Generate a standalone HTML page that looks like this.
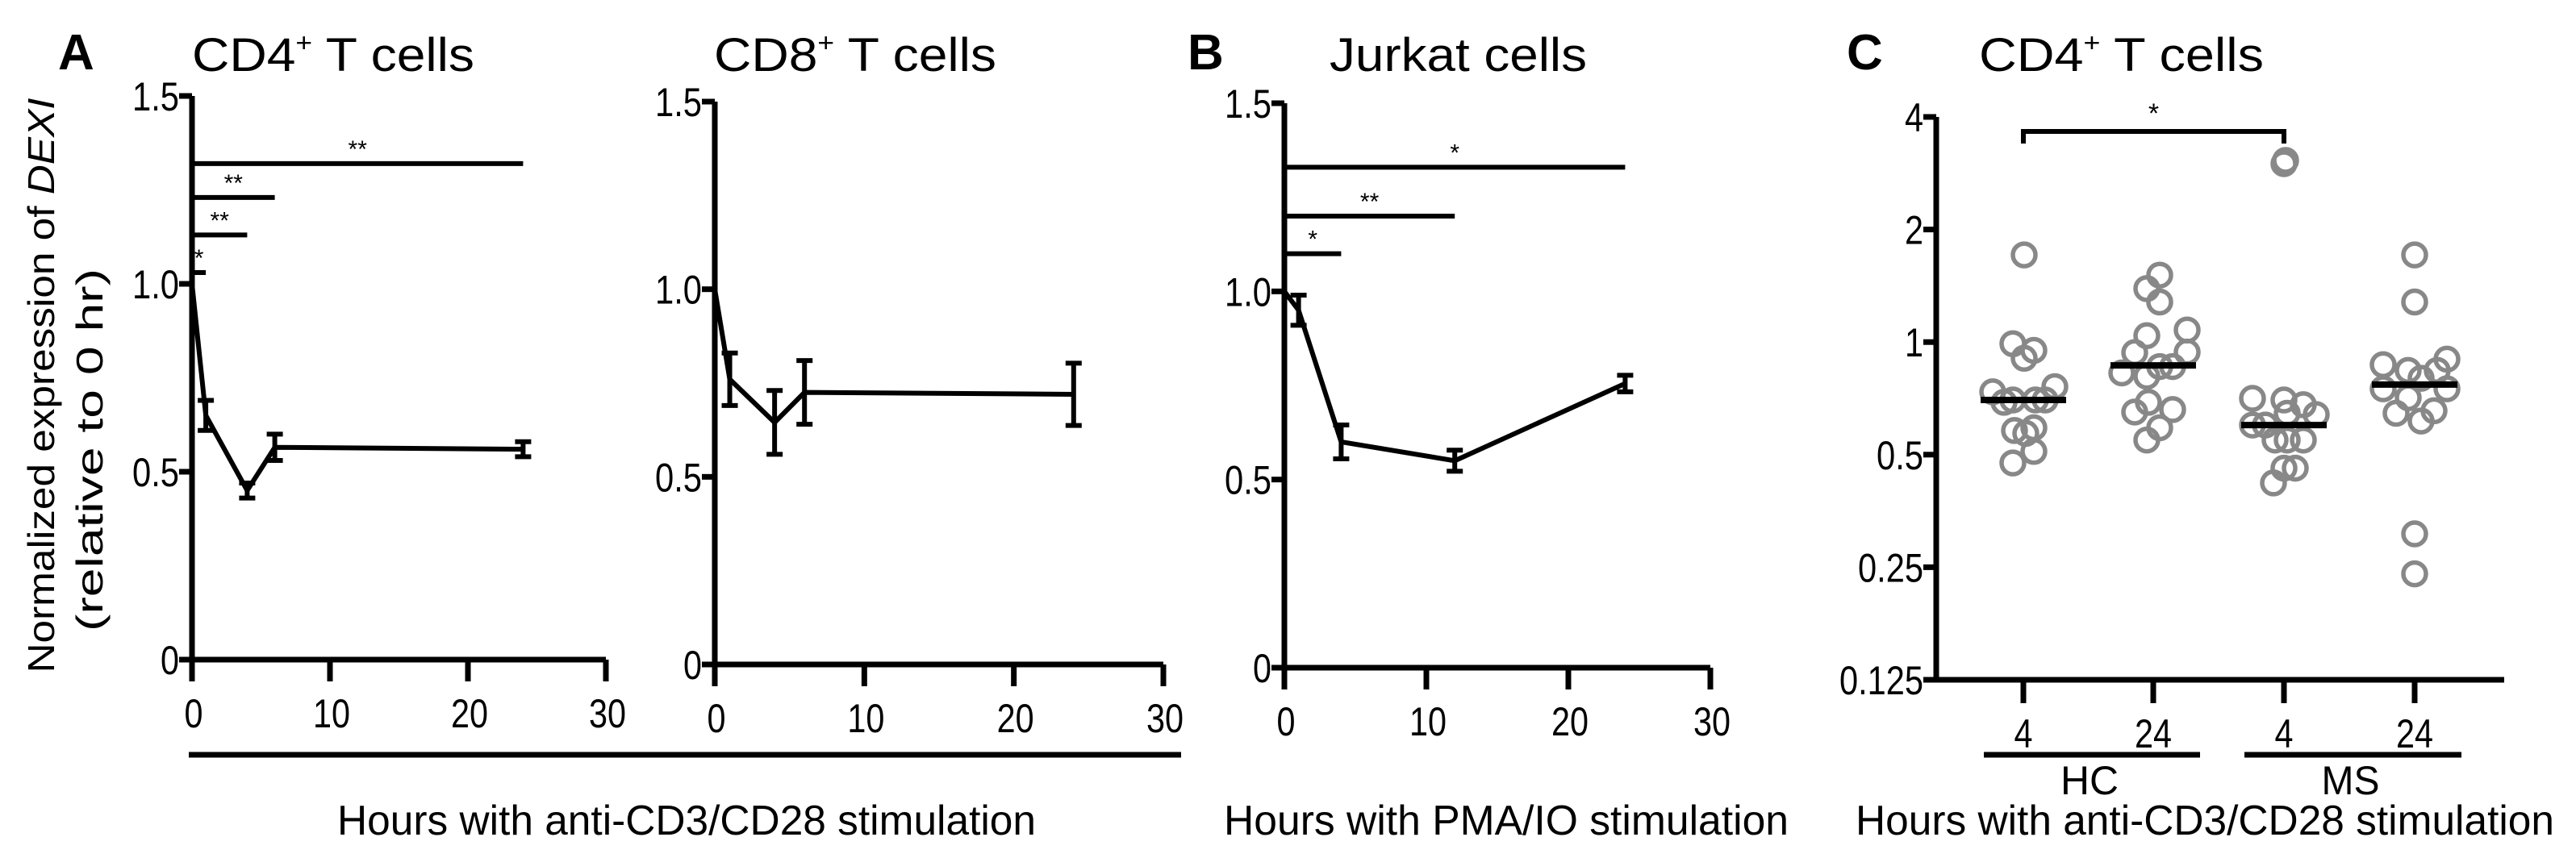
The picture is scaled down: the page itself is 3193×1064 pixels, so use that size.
<!DOCTYPE html>
<html><head><meta charset="utf-8"><style>
html,body{margin:0;padding:0;background:#fff;}
svg{display:block;}
text{font-family:"Liberation Sans Narrow","Liberation Sans",sans-serif;fill:#000;}
.reg{font-family:"Liberation Sans",sans-serif;}
</style></head><body>
<svg id="fig" width="3193" height="1064" viewBox="0 0 3193 1064" xmlns="http://www.w3.org/2000/svg">
<g id="static">
<text x="72" y="86" font-size="62" font-weight="bold" font-family="Liberation Sans">A</text>
<text x="238" y="88" font-size="58" textLength="350" lengthAdjust="spacingAndGlyphs">CD4<tspan font-size="32" dy="-24">+</tspan><tspan dy="24"> T cells</tspan></text>
<text x="885" y="88" font-size="58" textLength="350" lengthAdjust="spacingAndGlyphs">CD8<tspan font-size="32" dy="-24">+</tspan><tspan dy="24"> T cells</tspan></text>
<text x="1472" y="86" font-size="62" font-weight="bold" font-family="Liberation Sans">B</text>
<text x="1648" y="88" font-size="58" textLength="319" lengthAdjust="spacingAndGlyphs">Jurkat cells</text>
<text x="2289" y="86" font-size="62" font-weight="bold" font-family="Liberation Sans">C</text>
<text x="2453" y="88" font-size="58" textLength="353" lengthAdjust="spacingAndGlyphs">CD4<tspan font-size="32" dy="-24">+</tspan><tspan dy="24"> T cells</tspan></text>
<g transform="translate(67,478) rotate(-90)">
<text class="reg" x="0" y="0" font-size="46" text-anchor="middle" textLength="713" lengthAdjust="spacingAndGlyphs">Normalized expression of <tspan font-style="italic">DEXI</tspan></text>
<text class="reg" x="-80" y="60" font-size="46" text-anchor="middle" textLength="450" lengthAdjust="spacingAndGlyphs">(relative to 0 hr)</text>
</g>
<line x1="234" y1="936" x2="1464" y2="936" stroke="#000" stroke-width="7"/>
<text x="851" y="1035" font-size="52" text-anchor="middle" textLength="866" lengthAdjust="spacingAndGlyphs">Hours with anti-CD3/CD28 stimulation</text>
<text x="1867" y="1035" font-size="52" text-anchor="middle" textLength="700" lengthAdjust="spacingAndGlyphs">Hours with PMA/IO stimulation</text>
<text x="2733" y="1035" font-size="52" text-anchor="middle" textLength="866" lengthAdjust="spacingAndGlyphs">Hours with anti-CD3/CD28 stimulation</text>
</g>
</svg>
<script>
// ---- Data ----
const timeTicks = [0, 10, 20, 30];
const linYTicks = [0, 0.5, 1.0, 1.5];
const linYTickLabels = ["0", "0.5", "1.0", "1.5"];

const cd4Times = [0, 1, 4, 6, 24];
const cd4Means = [1.0, 0.65, 0.45, 0.565, 0.56];
const cd4Err = [0, 0.04, 0.02, 0.035, 0.02];
const cd4SigEnd = [1, 4, 6, 24];
const cd4SigLevel = [1.03, 1.13, 1.23, 1.32];
const cd4SigText = ["*", "**", "**", "**"];

const cd8Times = [0, 1, 4, 6, 24];
const cd8Means = [1.0, 0.76, 0.645, 0.725, 0.72];
const cd8Err = [0, 0.07, 0.085, 0.085, 0.083];

const jurTimes = [0, 1, 4, 12, 24];
const jurMeans = [1.0, 0.95, 0.6, 0.55, 0.755];
const jurErr = [0, 0.04, 0.045, 0.028, 0.022];
const jurSigEnd = [4, 12, 24];
const jurSigLevel = [1.1, 1.2, 1.33];
const jurSigText = ["*", "**", "*"];

const cCategories = ["4", "24", "4", "24"];
const cGroups = ["HC", "MS"];
const logTicks = [0.125, 0.25, 0.5, 1, 2, 4];
const logTickLabels = ["0.125", "0.25", "0.5", "1", "2", "4"];
const hc4Vals = [1.71, 0.99, 0.95, 0.905, 0.736, 0.69, 0.70, 0.70, 0.76, 0.70, 0.58, 0.59, 0.57, 0.51, 0.475];
const hc24Vals = [1.51, 1.39, 1.28, 1.04, 1.077, 0.937, 0.94, 0.86, 0.86, 0.827, 0.81, 0.69, 0.65, 0.66, 0.59, 0.547];
const ms4Vals = [3.0, 3.06, 0.707, 0.70, 0.68, 0.64, 0.60, 0.60, 0.645, 0.547, 0.547, 0.547, 0.46, 0.46, 0.42];
const ms24Vals = [1.71, 1.28, 0.87, 0.90, 0.84, 0.80, 0.84, 0.75, 0.75, 0.71, 0.645, 0.655, 0.615, 0.307, 0.24];
const cMedians = [0.70, 0.866, 0.60, 0.77];
// horizontal jitter (layout, px)
const jit0 = [1,-13,13,1,-38,-24,-13,15,39,27,-11,13,3,13,-13];
const jit1 = [8,-8,8,-8,42,-23,42,8,24,-39,-8,-6,-23,24,8,-8];
const jit2 = [0,2,-39,0,24,40,-39,-23,4,-11,4,24,0,14,-13];
const jit3 = [0,0,-39,40,-8,8,28,-39,40,-8,-23,24,8,0,0];

const NS = "http://www.w3.org/2000/svg";
const svg = document.getElementById("fig");
function mk(tag, attrs, parent) {
  const e = document.createElementNS(NS, tag);
  for (const k in attrs) e.setAttribute(k, attrs[k]);
  (parent || svg).appendChild(e);
  return e;
}
function narrowLen(s) {
  let w = 0;
  for (const ch of s) w += (ch === '.') ? 12 : (/[A-Z]/.test(ch) ? 36 : 23);
  return w;
}
function tickText(g, x, y, s, anchor) {
  const t = mk("text", {x: x, y: y, "font-size": 50, "text-anchor": anchor, textLength: narrowLen(s), lengthAdjust: "spacingAndGlyphs"}, g);
  t.textContent = s;
  return t;
}

function linePanel(name, x0, x1, y0, y1, times, means, errs, sigEnd, sigLevel, sigText) {
  const g = mk("g", {});
  
  
  const sx = v => x0 + (v / 30) * (x1 - x0);
  const sy = v => y0 - (v / 1.5) * (y0 - y1);
  const ax = mk("path", {d: `M${x0},${sy(1.5)} V${y0} H${x1}`, fill: "none", stroke: "#000", "stroke-width": 7}, g);
  
  
  linYTicks.forEach((t, i) => {
    const tk = mk("line", {x1: x0 - 16, x2: x0, y1: sy(t), y2: sy(t), stroke: "#000", "stroke-width": 7}, g);
    
    
    const tl = tickText(g, x0 - 16, sy(t) + 18, linYTickLabels[i], "end");
    
    
  });
  timeTicks.forEach(t => {
    const tk = mk("line", {x1: sx(t), x2: sx(t), y1: y0, y2: y0 + 27, stroke: "#000", "stroke-width": 7}, g);
    
    
    const tl = tickText(g, sx(t) + 2, y0 + 84, String(t), "middle");
    
    
  });
  let d = "";
  times.forEach((t, i) => { d += (i ? "L" : "M") + sx(t) + "," + sy(means[i]); });
  const ln = mk("path", {d, fill: "none", stroke: "#000", "stroke-width": 6, "stroke-linejoin": "miter"}, g);
  
  
  times.forEach((t, i) => {
    if (!errs[i]) return;
    const x = sx(t), a = sy(means[i] + errs[i]), b = sy(means[i] - errs[i]);
    const eb = mk("path", {d: `M${x},${a} V${b} M${x - 10},${a} H${x + 10} M${x - 10},${b} H${x + 10}`, stroke: "#000", "stroke-width": 6, fill: "none"}, g);
    
    
  });
  if (sigEnd) sigEnd.forEach((e, i) => {
    const y = sy(sigLevel[i]);
    const sl = mk("line", {x1: x0, x2: sx(e), y1: y, y2: y, stroke: "#000", "stroke-width": 6}, g);
    
    
    const st = mk("text", {x: (x0 + sx(e)) / 2, y: y - 8, "font-size": 30, "text-anchor": "middle"}, g);
    st.textContent = sigText[i];
    
    
  });
}
linePanel("cd4", 238, 751, 818, 119, cd4Times, cd4Means, cd4Err, cd4SigEnd, cd4SigLevel, cd4SigText);
linePanel("cd8", 886, 1442, 824, 126, cd8Times, cd8Means, cd8Err, null, null, null);
linePanel("jurkat", 1592, 2120, 828, 128, jurTimes, jurMeans, jurErr, jurSigEnd, jurSigLevel, jurSigText);

// Panel C
(function () {
  const g = mk("g", {});
  
  
  const xA = 2400, yBase = 843, perOct = 139.6;
  const sy = v => yBase - Math.log2(v / 0.125) * perOct;
  const cx = [2508, 2669, 2831, 2993];
  const ax = mk("path", {d: `M${xA},${sy(4)} V${yBase} H3104`, fill: "none", stroke: "#000", "stroke-width": 7}, g);
  
  
  logTicks.forEach((t, i) => {
    const tk = mk("line", {x1: xA - 16, x2: xA, y1: sy(t), y2: sy(t), stroke: "#000", "stroke-width": 7}, g);
    
    
    const tl = tickText(g, xA - 16, sy(t) + 18, logTickLabels[i], "end");
    
    
  });
  cCategories.forEach((c, i) => {
    const tk = mk("line", {x1: cx[i], x2: cx[i], y1: yBase, y2: yBase + 29, stroke: "#000", "stroke-width": 7}, g);
    
    
    const tl = tickText(g, cx[i], 927, c, "middle");
    
    
  });
  cGroups.forEach((grp, k) => {
    const a = cx[2 * k] - 49, b = cx[2 * k + 1] + 58;
    const gl = mk("line", {x1: a, x2: b, y1: 936, y2: 936, stroke: "#000", "stroke-width": 7}, g);
    
    
    const gt = tickText(g, (a + b) / 2 - 3, 985, grp, "middle");
    
    
  });
  const sets = [hc4Vals, hc24Vals, ms4Vals, ms24Vals];
  const jits = [jit0, jit1, jit2, jit3];
  sets.forEach((vals, i) => {
    vals.forEach((v, j) => {
      const c = mk("circle", {cx: cx[i] + (jits[i][j] || 0), cy: sy(v), r: 14, fill: "none", stroke: "#888", "stroke-width": 5.5}, g);
      
      
    });
  });
  cMedians.forEach((m, i) => {
    const ml = mk("line", {x1: cx[i] - 53, x2: cx[i] + 53, y1: sy(m), y2: sy(m), stroke: "#000", "stroke-width": 8}, g);
    
    
  });
  const br = mk("path", {d: `M${cx[0]},178 V163 H${cx[2]} V178`, fill: "none", stroke: "#000", "stroke-width": 6}, g);
  
  
  const bt = mk("text", {x: (cx[0] + cx[2]) / 2, y: 152, "font-size": 34, "text-anchor": "middle"}, g);
  bt.textContent = "*";
  
  
})();
</script>
</body></html>
